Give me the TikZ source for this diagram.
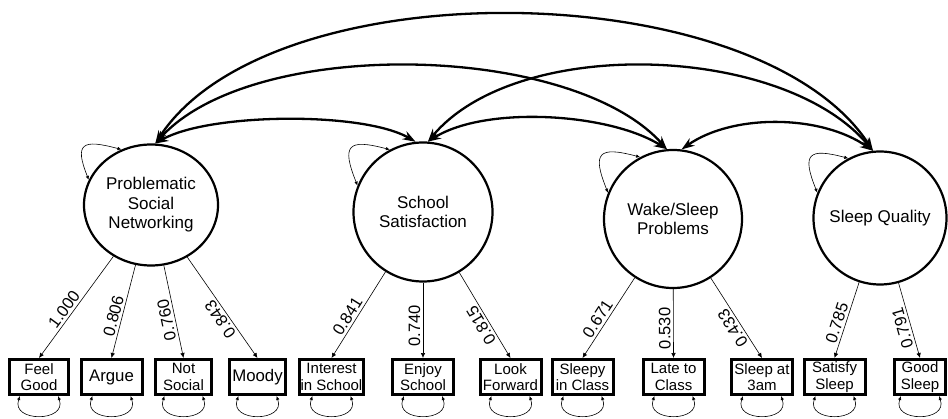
\documentclass[tikz,border=0pt]{standalone}
\usepackage{fontspec}
\setmainfont{Liberation Sans}
\usetikzlibrary{%
    arrows.meta,
    shapes.geometric
}

\tikzset{
    latent/.style={draw, circle, line width=2.2pt, inner sep=0pt, align=center,
                   font=\fontsize{17}{19.5}\selectfont},
    indicator/.style={draw, rectangle, line width=3pt, inner sep=1pt, align=center,
                      minimum width=61pt, minimum height=35pt,
                      font=\fontsize{15}{16.7}\selectfont},
    oneline/.style={font=\fontsize{16.8}{19}\selectfont},
    loading/.style={line width=0.6pt, {Latex[length=5pt,width=4.5pt]}-},
    weight/.style={sloped, allow upside down, above, pos=.43, inner sep=2.5pt,
                   font=\fontsize{16.5}{18}\selectfont},
    covar/.style={line width=2.3pt,
                  {Stealth[length=13pt,width=9pt]}-{Stealth[length=13pt,width=9pt]}},
    varloop/.style={line width=0.6pt,
                    {Latex[length=4pt,width=3.5pt]}-{Latex[length=4pt,width=3.5pt]}}
}

\begin{document}
\begin{tikzpicture}[x=1pt, y=1pt]
    \useasboundingbox (0,0) rectangle (948,418);

    \node[latent, ellipse, minimum width=134pt, minimum height=121pt]
        (psn) at (151,213) {Problematic\\Social\\Networking};
    \node[latent, minimum size=139pt] (ss)  at (423,206) {School\\Satisfaction};
    \node[latent, minimum size=138pt] (wsp) at (673,199) {Wake/Sleep\\Problems};
    \node[latent, minimum size=133pt] (sq)  at (880,200) {Sleep Quality};
    %
    \node[indicator, minimum width=59pt] (feel)     at (39,41)    {Feel\\Good};
    \node[indicator, oneline]            (argue)    at (111.5,41) {Argue};
    \node[indicator, minimum width=56pt] (notsoc)   at (183.5,41) {Not\\Social};
    \node[indicator, oneline, minimum width=56pt] (moody) at (257.5,41) {Moody};
    \node[indicator]                     (interest) at (331.5,41) {Interest\\in School};
    \node[indicator]                     (enjoy)    at (423,41)   {Enjoy\\School};
    \node[indicator]                     (look)     at (510.5,41) {Look\\Forward};
    \node[indicator]                     (sleepy)   at (582.5,41) {Sleepy\\in Class};
    \node[indicator]                     (late)     at (673.5,41) {Late to\\Class};
    \node[indicator]                     (sleepat)  at (762,41)   {Sleep at\\3am};
    \node[indicator]                     (satisfy)  at (834.5,41) {Satisfy\\Sleep};
    \node[indicator, minimum width=51pt] (good)     at (920,41)   {Good\\Sleep};

    \foreach \Ind/\Lat/\Val in {feel/psn/1.000, argue/psn/0.806, notsoc/psn/0.760,
                                moody/psn/0.843, interest/ss/0.841, enjoy/ss/0.740,
                                look/ss/0.815, sleepy/wsp/0.671, late/wsp/0.530,
                                sleepat/wsp/0.433, satisfy/sq/0.785, good/sq/0.791}
        \draw[loading] (\Ind.north) -- node[weight] {\Val} (\Lat);

    \foreach \Lat in {psn,ss,wsp,sq}
        \draw[varloop] (\Lat.158) to[out=112, in=165, looseness=2.3] (\Lat.118);
    \foreach \Ind in {feel,argue,notsoc,moody,interest,enjoy,look,sleepy,late,sleepat,satisfy,good}
        \draw[varloop] ([xshift=-19pt]\Ind.south) to[out=-110, in=-70, looseness=1.9]
                       ([xshift=19pt]\Ind.south);

    \draw[covar] (psn.86) to[out=57, in=123, looseness=0.75] (sq.96);
    \draw[covar] (psn.86) to[out=48, in=132, looseness=0.72] (wsp.95);
    \draw[covar] (ss.86)  to[out=50, in=130, looseness=0.8]  (sq.96);
    \draw[covar] (psn.86) to[out=30, in=150, looseness=0.6]  (ss.96);
    \draw[covar] (ss.86)  to[out=32, in=148, looseness=0.73] (wsp.95);
    \draw[covar] (wsp.83) to[out=35, in=145, looseness=0.84] (sq.96);
\end{tikzpicture}
\end{document}
